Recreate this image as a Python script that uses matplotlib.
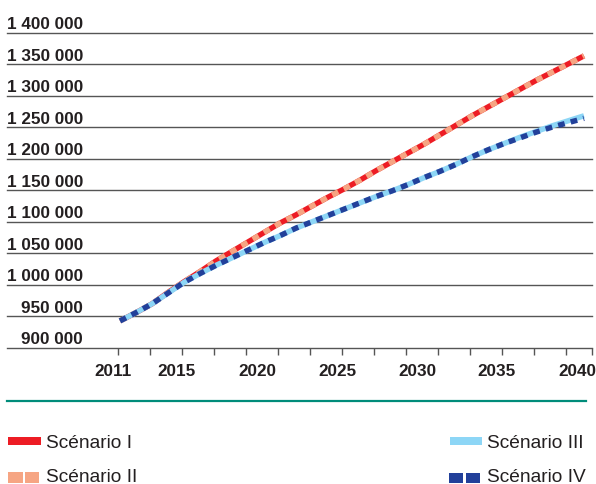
import numpy as np
import matplotlib
matplotlib.use("Agg")
import matplotlib.pyplot as plt
from matplotlib.patches import Rectangle
from matplotlib.lines import Line2D
import matplotlib.transforms as mtransforms

plt.rcParams['font.family'] = ['Liberation Sans', 'DejaVu Sans']

# ---- data ----
years = list(range(2011, 2041))
scenario_1 = [943, 956, 970, 988, 1005, 1021, 1038, 1053, 1068, 1083,
              1098, 1111, 1125, 1139, 1152, 1166, 1181, 1195, 1209, 1223,
              1238, 1253, 1268, 1282, 1296, 1310, 1324, 1337, 1350, 1363]
scenario_2 = [943, 956, 970, 988, 1005, 1021, 1038, 1053, 1068, 1083,
              1098, 1111, 1125, 1139, 1152, 1166, 1181, 1195, 1209, 1223,
              1238, 1253, 1268, 1282, 1296, 1310, 1324, 1337, 1350, 1363]
scenario_3 = [943, 956, 970, 987, 1004, 1018, 1031, 1043, 1055, 1067,
              1078, 1090, 1100, 1110, 1120, 1130, 1140, 1149, 1159, 1170,
              1180, 1191, 1203, 1214, 1224, 1234, 1243, 1252, 1260, 1268]
scenario_4 = [943, 956, 970, 987, 1004, 1018, 1031, 1043, 1055, 1067,
              1078, 1090, 1100, 1110, 1120, 1130, 1140, 1149, 1159, 1170,
              1180, 1191, 1203, 1214, 1224, 1233, 1242, 1250, 1257, 1264]
scenario_names = ["Scénario I", "Scénario II", "Scénario III", "Scénario IV"]
y_ticks = [900000, 950000, 1000000, 1050000, 1100000, 1150000, 1200000,
           1250000, 1300000, 1350000, 1400000]
y_tick_labels = ["900 000", "950 000", "1 000 000", "1 050 000", "1 100 000",
                 "1 150 000", "1 200 000", "1 250 000", "1 300 000",
                 "1 350 000", "1 400 000"]
x_label_years = [2011, 2015, 2020, 2025, 2030, 2035, 2040]

# ---- styles ----
C_RED = '#ED1C24'
C_SALMON = '#F6A583'
C_LBLUE = '#8DD6F6'
C_DBLUE = '#22409A'
C_GRID = '#555555'
C_TEXT = '#231F20'
C_TEAL = '#008C7A'

W, H = 596, 485
fig = plt.figure(figsize=(W / 100, H / 100), dpi=100)

# axes geometry in pixels
ax_left, ax_right = 7, 592
ylim = (900000, 1403000)
px_per_unit = 315.5 / 500000
ax_bottom_px = 349
ax_top_px = ax_bottom_px - (ylim[1] - ylim[0]) * px_per_unit
ax = fig.add_axes([ax_left / W, 1 - ax_bottom_px / H,
                   (ax_right - ax_left) / W, (ax_bottom_px - ax_top_px) / H])

px_per_year = 16.0
x0 = 2011 - (120 - ax_left) / px_per_year
x1 = 2011 + (ax_right - 120) / px_per_year
ax.set_xlim(x0, x1)
ax.set_ylim(*ylim)

s1 = np.array(scenario_1) * 1000
s2 = np.array(scenario_2) * 1000
s3 = np.array(scenario_3) * 1000
s4 = np.array(scenario_4) * 1000

lw = 3.9
ax.plot(years, s1, color=C_RED, lw=lw, solid_capstyle='butt', zorder=3)
ax.plot(years, s2, color=C_SALMON, lw=lw, dashes=(1.25, 1.15),
        dash_capstyle='butt', zorder=4)
ax.plot(years, s3, color=C_LBLUE, lw=lw, solid_capstyle='butt', zorder=5)
ax.plot(years, s4, color=C_DBLUE, lw=lw, dashes=(1.25, 1.15),
        dash_capstyle='butt', zorder=6)

# gridlines
for v in y_ticks[1:]:
    ax.axhline(v, color=C_GRID, lw=1.0, zorder=1, clip_on=False)

for sp in ['top', 'right', 'left']:
    ax.spines[sp].set_visible(False)
ax.spines['bottom'].set_color(C_GRID)
ax.spines['bottom'].set_linewidth(1.0)

ax.set_yticks([])
# minor ticks (marks) and major labels
tick_marks = list(np.arange(2011, 2040, 2) - 0.15) + [x1]
ax.set_xticks(tick_marks, minor=True)
ax.tick_params(axis='x', which='minor', length=5, width=1.0, color=C_GRID,
               direction='out')
ax.set_xticks(x_label_years)
ax.set_xticklabels([str(y) for y in x_label_years], fontsize=12.3,
                   fontweight='bold', color=C_TEXT)
ax.tick_params(axis='x', which='major', length=0, pad=11)
offset = mtransforms.ScaledTranslation(-7 / 100, 0, fig.dpi_scale_trans)
for lab in ax.get_xticklabels():
    lab.set_transform(lab.get_transform() + offset)

# y labels above gridlines
lab_tr = ax.get_yaxis_transform() + mtransforms.ScaledTranslation(
    0, 4.5 / 100, fig.dpi_scale_trans)
for v, t in zip(y_ticks, y_tick_labels):
    ax.text((83 - ax_left) / (ax_right - ax_left), v, t, transform=lab_tr,
            ha='right', va='baseline', fontsize=12.3, fontweight='bold',
            color=C_TEXT, clip_on=False)

# teal separator
def fx(x):
    return x / W

def fy(y):
    return 1 - y / H

fig.add_artist(Line2D([fx(7), fx(586)], [fy(402), fy(402)], color=C_TEAL,
                      lw=1.6, transform=fig.transFigure))

# legend
def rect(x, y, w, h, c):
    fig.add_artist(Rectangle((fx(x), fy(y + h)), w / W, h / H, color=c,
                             transform=fig.transFigure, lw=0))

rect(8, 438, 33, 8, C_RED)
rect(8, 473, 15, 11, C_SALMON)
rect(25, 473, 14, 11, C_SALMON)
rect(450, 438, 32, 8, C_LBLUE)
rect(449, 474, 14, 10, C_DBLUE)
rect(466, 474, 14, 10, C_DBLUE)

leg_fs = 13.8
fig.text(fx(46), fy(448), scenario_names[0], fontsize=leg_fs, color=C_TEXT,
         va='baseline', ha='left')
fig.text(fx(46), fy(482), scenario_names[1], fontsize=leg_fs, color=C_TEXT,
         va='baseline', ha='left')
fig.text(fx(487), fy(448), scenario_names[2], fontsize=leg_fs, color=C_TEXT,
         va='baseline', ha='left')
fig.text(fx(487), fy(482), scenario_names[3], fontsize=leg_fs, color=C_TEXT,
         va='baseline', ha='left')

fig.savefig('out.png', dpi=100)
